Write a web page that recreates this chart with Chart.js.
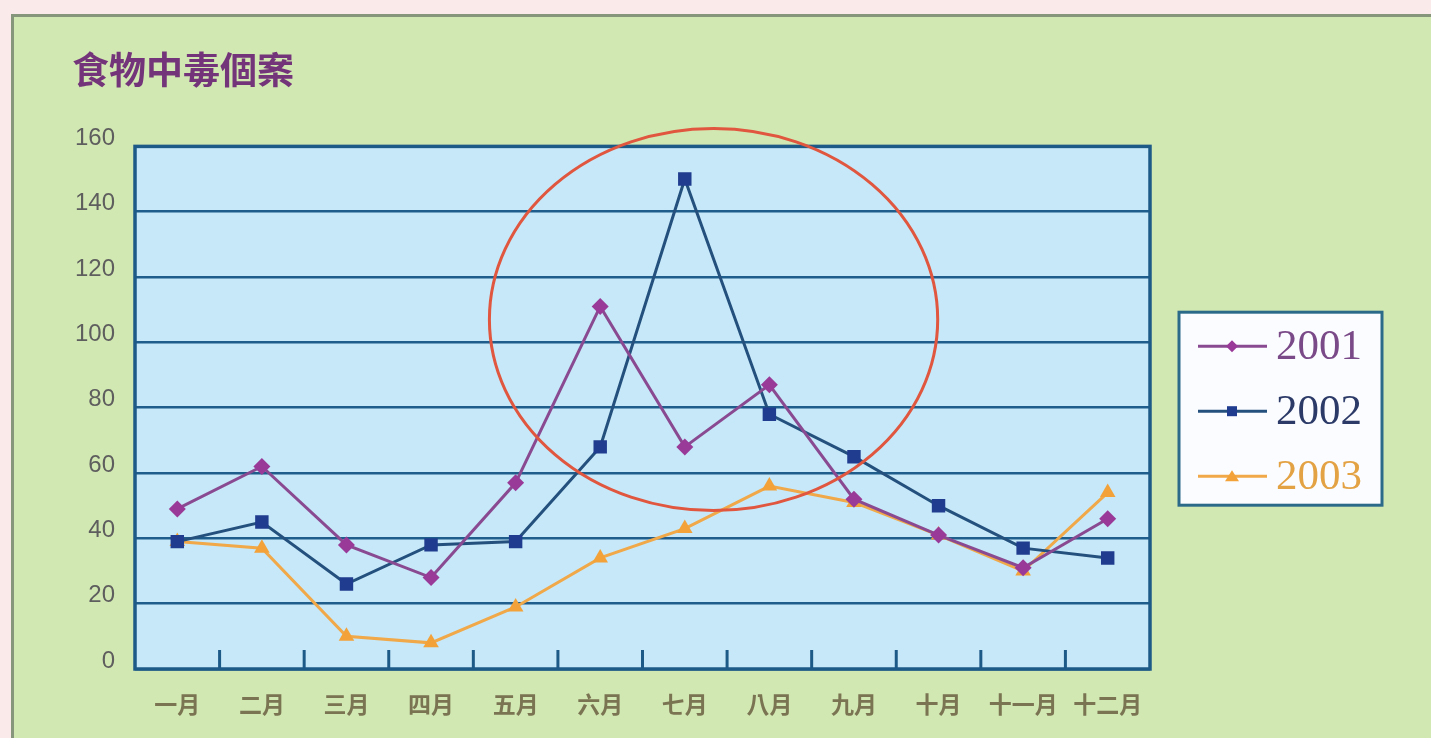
<!DOCTYPE html>
<html>
<head>
<meta charset="utf-8">
<script src="https://cdn.jsdelivr.net/npm/chart.js@4/dist/chart.umd.min.js"></script>
<style>
  html, body { margin: 0; padding: 0; width: 1431px; height: 738px; overflow: hidden; background: #fbeaea; }
  #panel { position: absolute; left: 11px; top: 14px; width: 1431px; height: 740px; background: #d2e8b2; border: 3px solid #86967a; box-sizing: border-box; }
  #wrap { position: absolute; left: 0; top: 0; width: 1431px; height: 738px; }
</style>
</head>
<body>
<div id="panel"></div>
<div id="wrap"><canvas id="c" width="1431" height="738"></canvas></div>
<script>
const months = ['一月','二月','三月','四月','五月','六月','七月','八月','九月','十月','十一月','十二月'];
const series2001 = [49, 62, 38, 28, 57, 111, 68, 87, 52, 41, 31, 46];
const series2002 = [39, 45, 26, 38, 39, 68, 150, 78, 65, 50, 37, 34];
const series2003 = [39, 37, 10, 8, 19, 34, 43, 56, 51, 41, 30, 54];
const yTicks = [0, 20, 40, 60, 80, 100, 120, 140, 160];
const seriesNames = ['2001', '2002', '2003'];
// highlight ellipse in data units (category index, value)
const highlight = { cx: 6.34, cy: 107, rx: 2.65, ry: 58.5 };

const styles = [
  { line: '#8a4a92', point: '#9a3a98', text: '#7a4a88', shape: 'rectRot', r: 8.5 },
  { line: '#24507e', point: '#1f3c8e', text: '#2c3a68', shape: 'rect', r: 9.5 },
  { line: '#f0a848', point: '#f3a23a', text: '#e3a244', shape: 'triangle', r: 9 }
];
const allSeries = [series2001, series2002, series2003];

const plotDeco = {
  id: 'plotDeco',
  beforeDraw(chart) {
    const { ctx, chartArea: a } = chart;
    ctx.save();
    ctx.fillStyle = '#c6e8f8';
    ctx.fillRect(a.left, a.top, a.right - a.left, a.bottom - a.top);
    ctx.restore();
  },
  beforeDatasetsDraw(chart) {
    const { ctx, chartArea: a } = chart;
    const xs = chart.scales.x;
    ctx.save();
    ctx.strokeStyle = '#1e5a88';
    ctx.lineWidth = 3;
    for (let i = 1; i < months.length; i++) {
      const px = (xs.getPixelForValue(i - 1) + xs.getPixelForValue(i)) / 2;
      ctx.beginPath();
      ctx.moveTo(px, a.bottom);
      ctx.lineTo(px, a.bottom - 19);
      ctx.stroke();
    }
    ctx.lineWidth = 3.5;
    ctx.strokeRect(a.left, a.top, a.right - a.left, a.bottom - a.top);
    ctx.restore();
  },
  afterDatasetsDraw(chart) {
    const { ctx } = chart;
    const xs = chart.scales.x, ys = chart.scales.y;
    const step = xs.getPixelForValue(1) - xs.getPixelForValue(0);
    const cx = xs.getPixelForValue(0) + highlight.cx * step;
    const cy = ys.getPixelForValue(highlight.cy);
    const rx = highlight.rx * step;
    const ry = Math.abs(ys.getPixelForValue(highlight.cy + highlight.ry) - cy);
    ctx.save();
    ctx.strokeStyle = '#e0563e';
    ctx.lineWidth = 3;
    ctx.beginPath();
    ctx.ellipse(cx, cy, rx, ry, 0, 0, Math.PI * 2);
    ctx.stroke();
    ctx.restore();
  },
  afterDraw(chart) {
    const { ctx, chartArea: a } = chart;
    const left = a.right + 29, w = 203, h = 193;
    const top = (a.top + a.bottom) / 2 - h / 2 + 1;
    ctx.save();
    ctx.fillStyle = '#fbfcff';
    ctx.fillRect(left, top, w, h);
    ctx.strokeStyle = '#2c6a8a';
    ctx.lineWidth = 3;
    ctx.strokeRect(left, top, w, h);
    ctx.font = '43px "Liberation Serif", "DejaVu Serif", serif';
    ctx.textBaseline = 'middle';
    ctx.textAlign = 'left';
    seriesNames.forEach((name, i) => {
      const st = styles[i];
      const y = top + 34 + i * 65;
      ctx.strokeStyle = st.line;
      ctx.lineWidth = 3;
      ctx.beginPath();
      ctx.moveTo(left + 19, y);
      ctx.lineTo(left + 88, y);
      ctx.stroke();
      const mx = left + 53;
      ctx.fillStyle = st.point;
      ctx.beginPath();
      if (st.shape === 'rectRot') {
        ctx.moveTo(mx, y - 6); ctx.lineTo(mx + 6, y); ctx.lineTo(mx, y + 6); ctx.lineTo(mx - 6, y);
      } else if (st.shape === 'rect') {
        ctx.rect(mx - 5, y - 5, 10, 10);
      } else {
        ctx.moveTo(mx, y - 6); ctx.lineTo(mx + 7, y + 5); ctx.lineTo(mx - 7, y + 5);
      }
      ctx.closePath();
      ctx.fill();
      ctx.fillStyle = st.text;
      ctx.fillText(name, left + 97, y + 2);
    });
    ctx.restore();
  }
};

new Chart(document.getElementById('c'), {
  type: 'line',
  data: {
    labels: months,
    datasets: allSeries.map((data, i) => ({
      label: seriesNames[i],
      data: data,
      borderColor: styles[i].line,
      backgroundColor: styles[i].point,
      pointBackgroundColor: styles[i].point,
      pointBorderColor: styles[i].point,
      pointStyle: styles[i].shape,
      pointRadius: styles[i].r,
      pointBorderWidth: 0,
      borderWidth: 3,
      tension: 0,
      fill: false
    }))
  },
  options: {
    responsive: false,
    animation: false,
    events: [],
    layout: { padding: { left: 72, right: 281, top: 0, bottom: 0 } },
    plugins: {
      legend: { display: false },
      tooltip: { enabled: false },
      title: {
        display: true,
        text: '食物中毒個案',
        align: 'start',
        color: '#74347a',
        font: { family: '"Noto Sans CJK TC", "Noto Sans CJK SC", sans-serif', size: 37, weight: 'bold', lineHeight: 1.2 },
        padding: { top: 48, bottom: 54 }
      }
    },
    scales: {
      x: {
        type: 'category',
        offset: true,
        grid: { display: false },
        border: { display: false },
        ticks: {
          autoSkip: false,
          maxRotation: 0,
          minRotation: 0,
          padding: 13,
          color: '#7a7452',
          font: { family: '"Noto Sans CJK TC", "Noto Sans CJK SC", sans-serif', size: 23, weight: 'bold', lineHeight: 1.2 }
        },
        afterFit(scale) { scale.height = 69; }
      },
      y: {
        min: 0,
        max: 160,
        afterBuildTicks(scale) { scale.ticks = yTicks.map(v => ({ value: v })); },
        grid: { color: '#1e5d8c', lineWidth: 2.5, drawTicks: false },
        border: { display: false },
        ticks: {
          padding: 20,
          labelOffset: -8,
          color: '#5e5e5e',
          font: { family: '"Liberation Sans", Arial, sans-serif', size: 24 }
        },
        afterFit(scale) { scale.width = 63; }
      }
    }
  },
  plugins: [plotDeco]
});
</script>
</body>
</html>
